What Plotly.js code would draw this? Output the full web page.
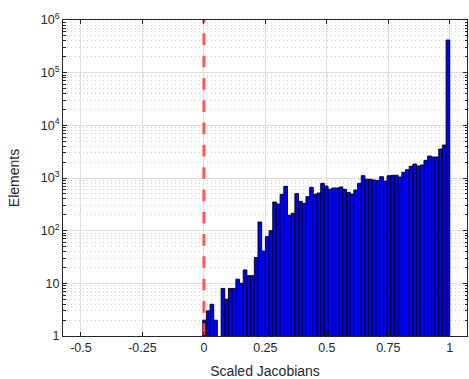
<!DOCTYPE html>
<html>
<head>
<meta charset="utf-8">
<script src="https://cdn.plot.ly/plotly-3.0.1.min.js"></script>
<style>
  html, body { margin: 0; padding: 0; background: #fff; }
  #chart { width: 469px; height: 379px; }
</style>
</head>
<body>
<div id="chart"></div>
<script>
// Histogram of scaled Jacobians: bin edges start at firstEdge, each binWidth wide
const firstEdge = -0.005;
const binWidth = 0.015;
const counts = [2,3,4,2,0,8,5,8,8,12,10,18,14,14,31,146,41,77,
  100,350,321,490,695,196,214,505,361,330,442,665,490,519,793,705,610,
  646,646,674,610,535,497,591,793,1106,944,944,916,900,1059,877,1106,1125,1125,1044,
  1282,1438,1667,1844,1690,1766,2168,2616,2504,2504,3550,4230,417000];
const binCenters = counts.map((_, i) => firstEdge + binWidth * (i + 0.5));
const threshold = 0;
const xTickVals = [-0.5, -0.25, 0, 0.25, 0.5, 0.75, 1];
const xTickText = ['-0.5', '-0.25', '0', '0.25', '0.5', '0.75', '1'];
const yTickVals = [1, 10, 100, 1000, 10000, 100000, 1000000];
const yTickText = ['1', '10', '10<sup>2</sup>', '10<sup>3</sup>', '10<sup>4</sup>', '10<sup>5</sup>', '10<sup>6</sup>'];

const bars = {
  type: 'bar',
  x: binCenters,
  y: counts.map(c => c > 0 ? c : null),
  width: binWidth,
  marker: { color: '#0000ff', line: { color: '#000000', width: 0.9 } },
  hoverinfo: 'x+y',
  showlegend: false
};

const refLine = {
  type: 'scatter',
  mode: 'lines',
  x: [threshold, threshold],
  y: [Math.pow(10, 6.17), 1],
  line: { color: 'rgba(255,70,70,0.9)', width: 3, dash: '11.7px,10.6px' },
  hoverinfo: 'skip',
  showlegend: false
};

const fontFam = '"Liberation Sans", Arial, Helvetica, sans-serif';
const axisColor = '#262626';

const layout = {
  width: 469, height: 379,
  margin: { l: 63, r: 2, t: 20, b: 43 },
  paper_bgcolor: '#ffffff',
  plot_bgcolor: '#ffffff',
  font: { family: fontFam, size: 12.5, color: axisColor },
  bargap: 0,
  xaxis: {
    range: [-0.573, 1.07],
    tickmode: 'array', tickvals: xTickVals, ticktext: xTickText,
    ticks: 'inside', ticklen: 4, tickcolor: axisColor, tickwidth: 1,
    showline: true, linecolor: axisColor, linewidth: 1, mirror: 'ticks',
    showgrid: true, gridcolor: '#dedede', gridwidth: 1,
    zeroline: false,
    tickfont: { size: 12.5, color: axisColor },
    title: { text: 'Scaled Jacobians', font: { size: 14, color: axisColor }, standoff: 12 }
  },
  yaxis: {
    type: 'log',
    range: [0, 6],
    tickmode: 'array', tickvals: yTickVals, ticktext: yTickText,
    ticks: 'inside', ticklen: 4, tickcolor: axisColor, tickwidth: 1,
    showline: true, linecolor: axisColor, linewidth: 1, mirror: 'ticks',
    showgrid: true, gridcolor: '#dedede', gridwidth: 1,
    zeroline: false,
    tickfont: { size: 12.5, color: axisColor },
    minor: { dtick: 'D1', ticks: 'inside', ticklen: 2.5, tickcolor: axisColor,
             showgrid: true, gridcolor: '#d2d2d2', griddash: '1px,3px', gridwidth: 1 },
    title: { text: 'Elements', font: { size: 14, color: axisColor }, standoff: 17 }
  }
};

Plotly.newPlot('chart', [bars, refLine], layout, { displayModeBar: false, staticPlot: true });
</script>
</body>
</html>
